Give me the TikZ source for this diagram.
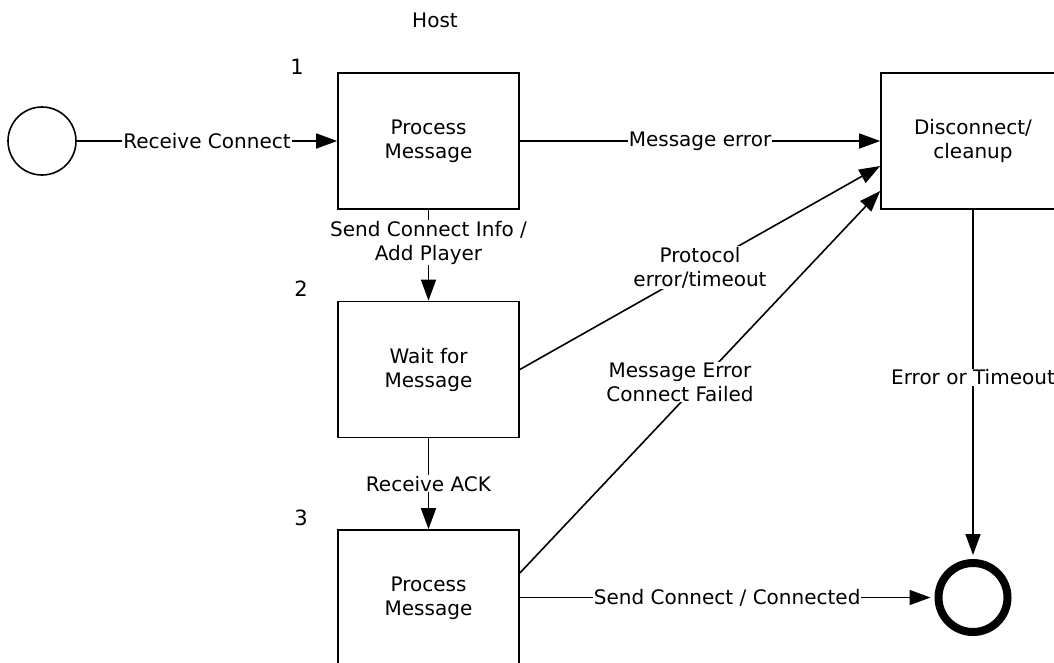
\documentclass[tikz,border=0pt]{standalone}
\usepackage{fontspec}
\setmainfont{DejaVu Sans}
\usetikzlibrary{arrows.meta}
\begin{document}
\begin{tikzpicture}[x=1pt,y=-1pt,
  font=\fontsize{20}{24}\selectfont,
  box/.style={draw, line width=1.7pt, minimum width=181pt, minimum height=136pt, align=center, inner sep=0pt},
  lbl/.style={fill=white, align=center, inner sep=1pt},
  arr/.style={line width=1.6pt, -{Triangle[length=21pt,width=15pt]}},
  state/.style={circle, draw, inner sep=0pt},
  num/.style={font=\fontsize{21}{24}\selectfont}
]
\useasboundingbox (0,0) rectangle (1054,662);
\clip (0,0) rectangle (1054,662);
\node[state, line width=1.6pt, minimum size=68pt] (start) at (42,141) {};
\node[box] (b1) at (428.5,141) {Process\\Message};
\node[box] (b2) at (428.5,369.5) {Wait for\\Message};
\node[box] (b3) at (428.5,598) {Process\\Message};
\node[box, minimum width=184pt] (disc) at (973,141) {Disconnect/\\cleanup};
\node[state, line width=8pt, minimum size=69pt] (end) at (973,597.5) {};
\node (host) at (435,20) {Host};
\node[num] (n1) at (297,67) {1};
\node[num] (n2) at (301,289) {2};
\node[num] (n3) at (301,518) {3};
\draw[arr] (start) -- node[lbl]{Receive Connect} (b1);
\draw[arr] (b1) -- node[lbl]{Message error} (disc);
\draw[arr] (b1) -- node[lbl, pos=0.36]{Send Connect Info /\\Add Player} (b2);
\draw[arr] (b2) -- node[lbl]{Receive ACK} (b3);
\draw[arr] (b2.east) -- node[lbl]{Protocol\\error/timeout} ([yshift=-25pt]disc.west);
\draw[arr] ([yshift=25pt]b3.east) -- node[lbl, xshift=-20pt]{Message Error\\Connect Failed} ([yshift=-50pt]disc.west);
\draw[arr, shorten >=4pt] (disc) -- node[lbl, pos=0.48]{Error or Timeout} (end);
\draw[arr, shorten >=4pt] (b3.east |- end) -- node[lbl]{Send Connect / Connected} (end);
\end{tikzpicture}
\end{document}
